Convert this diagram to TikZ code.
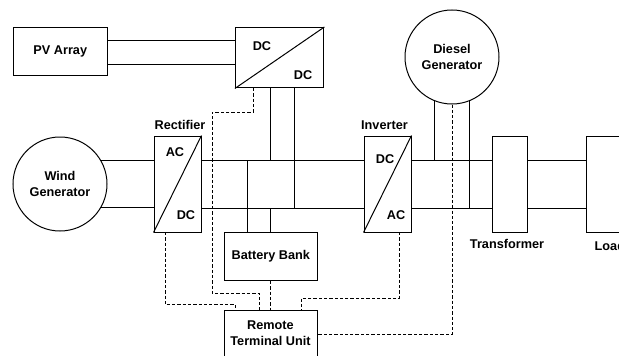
\documentclass[tikz,border=0pt]{standalone}
\usepackage{fontspec}
\setmainfont{Liberation Sans}
\usepackage{tikz}
\usetikzlibrary{
    positioning,
    calc
}

\tikzset{
    block/.style={draw, line width=1pt, inner sep=0pt, align=center},
    gen/.style={draw, circle, line width=1pt, minimum size=94pt, inner sep=0pt, align=center},
    wire/.style={line width=1pt},
    ctrl/.style={line width=1pt, dashed, dash pattern=on 3.3pt off 2pt},
    lbl/.style={font=\bfseries\fontsize{12.7pt}{16pt}\selectfont, inner sep=0pt, align=center}
}

\begin{document}
\begin{tikzpicture}[x=1pt, y=-1pt]
    \clip (0,0) rectangle (619,356);
    \useasboundingbox (0,0) rectangle (619,356);

    % sources and converters
    \node[block, lbl, minimum width=94pt, minimum height=48.5pt] (pv) at (60.3,51.7) {PV Array};
    \node[block, minimum width=88.5pt, minimum height=60.5pt] (dcdc) at (279.7,57.7) {};
    \node[gen, lbl] (wind) at (60,184) {Wind\\Generator};
    \node[gen, lbl] (diesel) at (452,57) {Diesel\\Generator};
    \node[block, minimum width=47pt, minimum height=96pt] (rect) at (177.5,184) {};
    \node[block, minimum width=47pt, minimum height=96pt] (inv) at (387.5,184) {};
    \node[block, minimum width=35.5pt, minimum height=96pt] (trans) at (510.2,184) {};
    \node[block, minimum width=70pt, minimum height=96pt] (load) at (621,184) {};
    \node[block, lbl, minimum width=93.5pt, minimum height=48.5pt] (batt) at (270.8,256.3) {Battery Bank};
    \node[block, lbl, minimum width=93.5pt, minimum height=60pt] (rtu) at (270.8,340) {};

    % labels
    \node[lbl] (pvdcin) at (262,46) {DC};
    \node[lbl] (pvdcout) at (303,75) {DC};
    \node[lbl] (rectac) at (175,152) {AC};
    \node[lbl] (rectdc) at (186,215) {DC};
    \node[lbl] (invdc) at (385,159) {DC};
    \node[lbl] (invac) at (396,215) {AC};
    \node[lbl] (rectname) at (180,125) {Rectifier};
    \node[lbl] (invname) at (384.5,125) {Inverter};
    \node[lbl] (transname) at (507,244) {Transformer};
    \node[lbl, anchor=west] (loadname) at (594.5,246) {Load};
    \node[lbl] (rtuname) at (270.5,333) {Remote\\Terminal Unit};

    % converter diagonals
    \draw[wire] (dcdc.south west) -- (dcdc.north east);
    \draw[wire] (rect.south west) -- (rect.north east);
    \draw[wire] (inv.south west) -- (inv.north east);

    % power wiring
    \coordinate (pvtop) at (107,40);
    \coordinate (pvbot) at (107,64);
    \draw[wire] (pvtop) -- (pvtop -| dcdc.west);
    \draw[wire] (pvbot) -- (pvbot -| dcdc.west);

    \draw[wire] (wind.30) -- (wind.30 -| rect.west);
    \draw[wire] (wind.-30) -- (wind.-30 -| rect.west);

    \coordinate (bustop) at (201,160);
    \coordinate (busbot) at (201,208);
    \draw[wire] (bustop) -- (bustop -| inv.west);
    \draw[wire] (busbot) -- (busbot -| inv.west);
    \draw[wire] (inv.east |- bustop) -- (bustop -| trans.west);
    \draw[wire] (inv.east |- busbot) -- (busbot -| trans.west);
    \draw[wire] (trans.east |- bustop) -- (bustop -| load.west);
    \draw[wire] (trans.east |- busbot) -- (busbot -| load.west);

    % taps on the bus
    \draw[wire] (dcdc.south -| batt.north) -- (bustop -| batt.north);
    \draw[wire] (294.5,88) coordinate (dcright) -- (dcright |- busbot);
    \draw[wire] (247,160) coordinate (batleft) -- (batleft |- batt.north);
    \draw[wire] (busbot -| batt.north) -- (batt.north);
    \draw[wire] (diesel.-112) -- (diesel.-112 |- bustop);
    \draw[wire] (diesel.-68) -- (diesel.-68 |- busbot);

    % control lines
    \coordinate (c1) at (253,88);
    \coordinate (c2) at (212,112);
    \coordinate (c3) at (259,293);
    \draw[ctrl] (c1) -- (c1 |- c2) -- (c2) -- (c2 |- c3) -- (c3) -- (c3 |- rtu.north);
    \coordinate (c4) at (165,232);
    \coordinate (c5) at (235,304.5);
    \draw[ctrl] (c4) -- (c4 |- c5) -- (c5) -- (c5 |- rtu.north);
    \draw[ctrl] (batt.south) -- (rtu.north);
    \coordinate (c6) at (399,232);
    \coordinate (c7) at (301.5,298);
    \draw[ctrl] (c6) -- (c6 |- c7) -- (c7) -- (c7 |- rtu.north);
    \coordinate (c8) at (317.5,334.5);
    \draw[ctrl] (diesel.south) -- (diesel.south |- c8) -- (c8);
\end{tikzpicture}
\end{document}
